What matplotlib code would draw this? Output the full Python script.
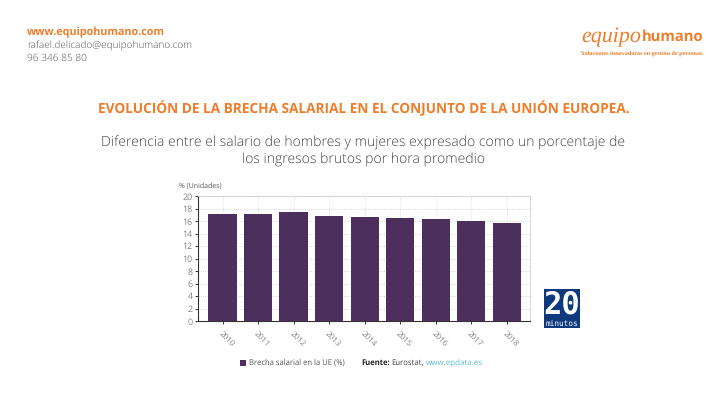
import matplotlib
matplotlib.use('Agg')
import matplotlib.pyplot as pyplot
from matplotlib.patches import Rectangle
from matplotlib.transforms import ScaledTranslation

years = ['2010', '2011', '2012', '2013', '2014', '2015', '2016', '2017', '2018']
gap = [17.1, 17.1, 17.4, 16.8, 16.6, 16.5, 16.3, 16.0, 15.7]
yTicks = [0, 2, 4, 6, 8, 10, 12, 14, 16, 18, 20]

W, H = 720, 405
ORANGE = '#ee7d2b'
PURPLE = '#4c2f5c'
GREY = '#808080'

pyplot.rcParams['font.family'] = ['Open Sans', 'DejaVu Sans']
pyplot.rcParams['text.hinting'] = 'no_hinting'


def put(x, y, s, **kw):
    """ text placed in image pixels, y counted from the top """
    kw.setdefault('va', 'center')
    return fig.text(x / W, 1 - y / H, s, **kw)


fig = pyplot.figure(figsize=(7.2, 4.05), dpi=100, facecolor='white')

# header
put(27, 32.5, 'www.equipohumano.com', color=ORANGE, fontsize=7.75, fontweight='bold')
put(27, 45.5, 'rafael.delicado@equipohumano.com', color='#555555', fontsize=7.2, fontweight='light')
put(27, 58, '96 346 85 80', color='#555555', fontsize=7.3, fontweight='light')

put(581, 37, 'equipo', color=ORANGE, fontsize=15.8, family=['Liberation Serif'], style='italic')
put(703, 37, 'humano', color=ORANGE, fontsize=10.6, fontweight='bold', ha='right')
put(642, 53.5, 'Soluciones innovadoras en gestión de personas', color=ORANGE, fontsize=4.45,
    family=['Liberation Serif'], fontweight='bold', ha='center')

# titles
put(363.5, 108.5, 'EVOLUCIÓN DE LA BRECHA SALARIAL EN EL CONJUNTO DE LA UNIÓN EUROPEA.',
    color=ORANGE, fontsize=9.84, fontweight='bold', ha='center')
put(363.5, 143, 'Diferencia entre el salario de hombres y mujeres expresado como un porcentaje de',
    color='#444444', fontsize=10.07, fontweight='light', ha='center')
put(363.5, 160, 'los ingresos brutos por hora promedio', color='#444444', fontsize=10.07,
    fontweight='light', ha='center')

# chart
ax = fig.add_axes([198 / W, 1 - 321 / H, (530 - 198) / W, (321 - 196) / H])
ax.bar(range(len(years)), gap, width=0.79, color=PURPLE, zorder=3)
ax.set_xlim(-0.69, 8.66)
ax.set_ylim(0, 20)
ax.set_yticks(yTicks)
ax.set_xticks(range(len(years)))
ax.set_xticklabels(years, rotation=-45, ha='center', va='top', rotation_mode='default')
ax.tick_params(axis='y', labelsize=6.4, labelcolor=GREY, length=2, width=0.7, pad=2, color='#333333')
ax.tick_params(axis='x', labelsize=5.8, labelcolor=GREY, length=2, width=0.7, pad=4, color='#333333')
for label in ax.get_xticklabels():
    label.set_transform(label.get_transform() + ScaledTranslation(4 / 100, 0, fig.dpi_scale_trans))
ax.grid(True, axis='y', linestyle=':', linewidth=0.6, color='#c8c8c8', zorder=0)
ax.grid(True, axis='x', linestyle=':', linewidth=0.6, color='#d8d8d8', zorder=0)
for side in ['top', 'right']:
    ax.spines[side].set_linestyle(':')
    ax.spines[side].set_linewidth(0.6)
    ax.spines[side].set_color('#c4c4c4')
for side in ['left', 'bottom']:
    ax.spines[side].set_linewidth(0.8)
    ax.spines[side].set_color('#333333')

put(179, 186.5, '% (Unidades)', color='#555555', fontsize=5.0)

# legend and source
fig.patches.append(Rectangle((240 / W, 1 - 365.5 / H), 6 / W, 6 / H, transform=fig.transFigure,
                             facecolor=PURPLE, edgecolor='none'))
put(249, 363, 'Brecha salarial en la UE (%)', color='#555555', fontsize=5.5)
put(361, 363, 'Fuente:', color='#222222', fontsize=5.5, fontweight='bold')
put(391, 363, 'Eurostat,', color='#444444', fontsize=5.6)
put(426, 363, 'www.epdata.es', color='#5bbfd0', fontsize=5.8)

# 20 minutos badge
fig.patches.append(Rectangle((544 / W, 1 - 328 / H), 36 / W, 39 / H, transform=fig.transFigure,
                             facecolor='#0d3a7d', edgecolor='none'))
put(562, 305, '20', color='white', fontsize=22, fontweight='bold', ha='center', family=['DejaVu Sans Mono'])
put(562, 323.5, 'minutos', color='white', fontsize=5.6, ha='center', family=['DejaVu Sans Mono'])

fig.savefig('out.png', dpi=100)
